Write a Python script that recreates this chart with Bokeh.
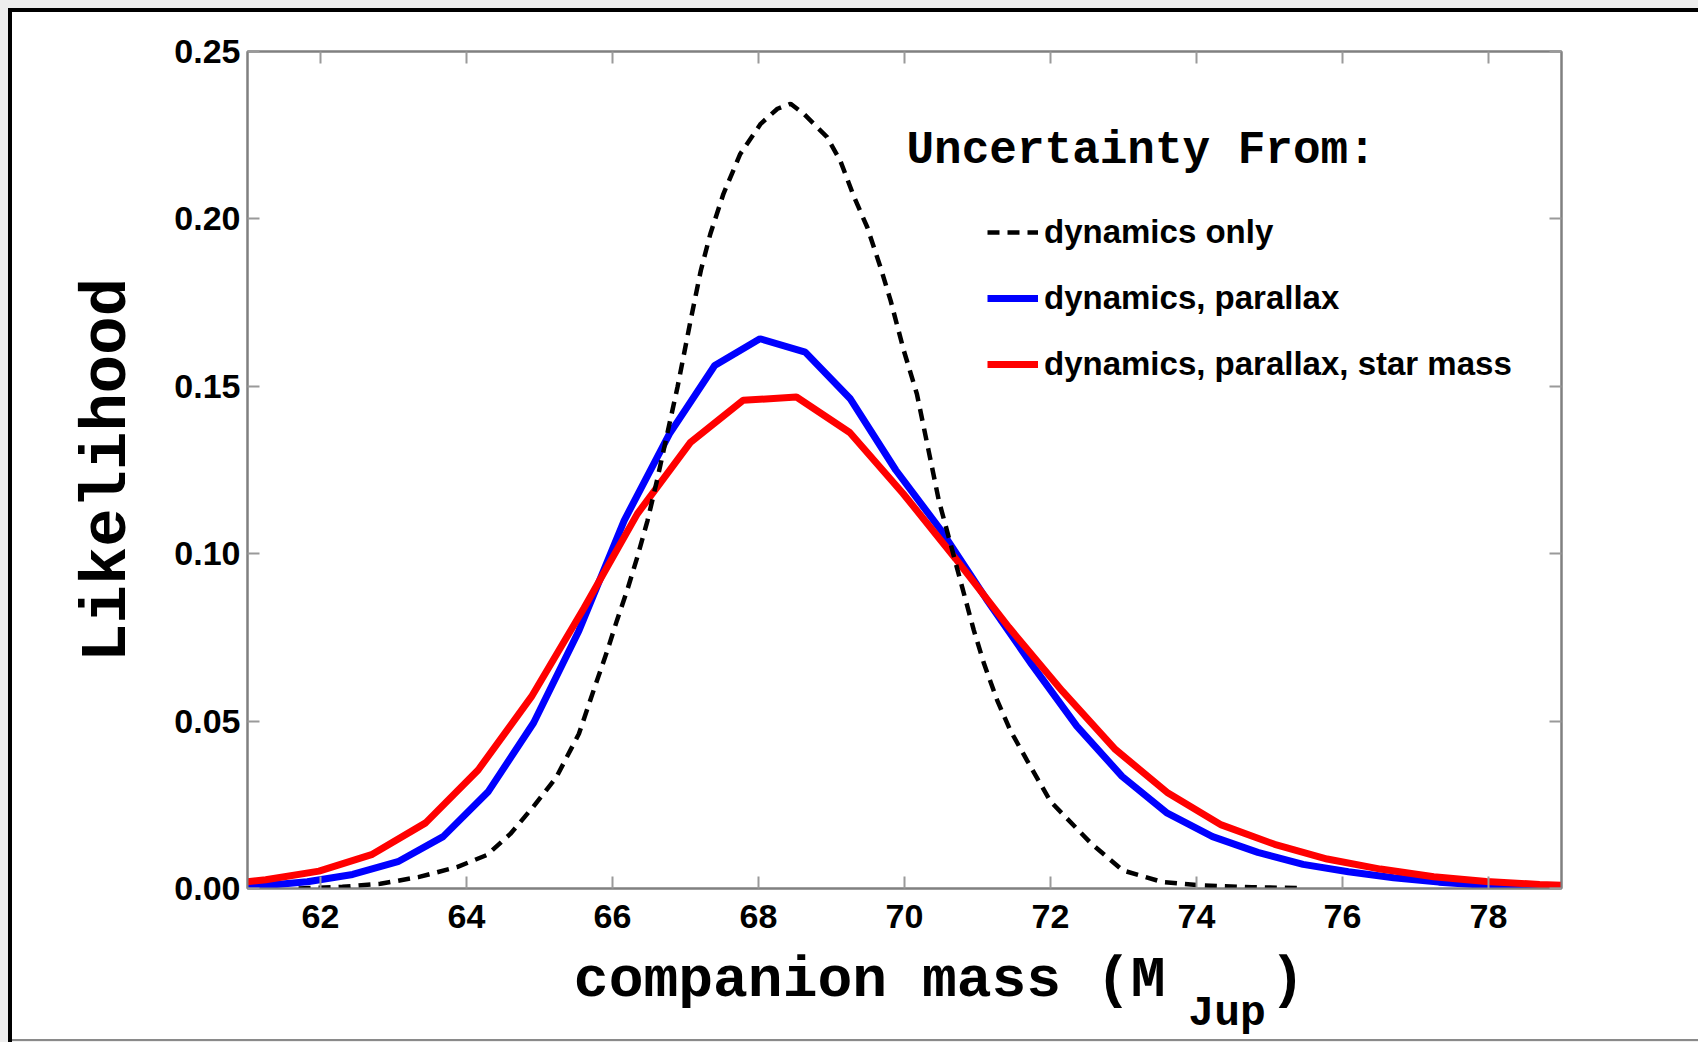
from bokeh.plotting import figure
from bokeh.models import (Range1d, FixedTicker, PrintfTickFormatter, LinearAxis,
                          Legend, LegendItem, Label)
from bokeh.embed import file_html
from bokeh.resources import INLINE

# ---------------- data ----------------
mass_dyn = [61.70, 62.30, 62.82, 63.34, 63.87, 64.28, 64.60, 64.91, 65.23, 65.54,
            65.74, 65.93, 66.06, 66.20, 66.34, 66.48, 66.61, 66.75, 66.89, 67.07,
            67.21, 67.34, 67.52, 67.75, 68.03, 68.26, 68.44, 68.62, 68.94, 69.12,
            69.31, 69.49, 69.67, 69.81, 69.99, 70.17, 70.33, 70.47, 70.63, 70.79,
            70.95, 71.09, 71.27, 71.45, 71.68, 72.00, 72.56, 72.99, 73.54, 74.09,
            74.76, 75.45]
like_dyn = [0.0000, 0.0005, 0.0014, 0.0034, 0.0064, 0.0100, 0.0163, 0.0243, 0.0332, 0.0462,
            0.0591, 0.0711, 0.0800, 0.0890, 0.0990, 0.1099, 0.1219, 0.1358, 0.1497, 0.1697,
            0.1846, 0.1955, 0.2075, 0.2194, 0.2284, 0.2329, 0.2344, 0.2314, 0.2244, 0.2174,
            0.2065, 0.1975, 0.1856, 0.1756, 0.1607, 0.1477, 0.1308, 0.1159, 0.1030, 0.0900,
            0.0771, 0.0671, 0.0562, 0.0472, 0.0382, 0.0260, 0.0134, 0.0054, 0.0019, 0.0009,
            0.0004, 0.0001]

mass_par = [60.58, 61.20, 61.82, 62.44, 63.06, 63.68, 64.30, 64.92, 65.54, 66.16,
            66.78, 67.40, 68.02, 68.64, 69.26, 69.88, 70.50, 71.12, 71.74, 72.36,
            72.98, 73.60, 74.22, 74.84, 75.46, 76.08, 76.70, 77.32, 77.94, 78.56, 79.18]
like_par = [0.0002, 0.0008, 0.0020, 0.0042, 0.0080, 0.0155, 0.0290, 0.0495, 0.0770, 0.1099,
            0.1358, 0.1562, 0.1642, 0.1602, 0.1462, 0.1250, 0.1070, 0.0865, 0.0670, 0.0485,
            0.0335, 0.0225, 0.0155, 0.0108, 0.0072, 0.0050, 0.0032, 0.0019, 0.0010, 0.0005, 0.0002]

mass_star = [60.53, 61.25, 61.98, 62.71, 63.44, 64.16, 64.89, 65.61, 66.34, 67.07,
             67.79, 68.52, 69.25, 69.98, 70.70, 71.43, 72.16, 72.89, 73.61, 74.34,
             75.07, 75.79, 76.52, 77.25, 77.97, 78.70, 79.43]
like_star = [0.0010, 0.0026, 0.0052, 0.0102, 0.0196, 0.0354, 0.0573, 0.0838, 0.1119, 0.1333,
             0.1458, 0.1468, 0.1362, 0.1180, 0.0985, 0.0780, 0.0590, 0.0415, 0.0285, 0.0190,
             0.0132, 0.0088, 0.0058, 0.0035, 0.0021, 0.0012, 0.0007]

series_labels = ["dynamics only", "dynamics, parallax", "dynamics, parallax, star mass"]
legend_title = "Uncertainty From:"
x_ticks = [62, 64, 66, 68, 70, 72, 74, 76, 78]
y_ticks = [0.0, 0.05, 0.10, 0.15, 0.20, 0.25]
x_label_main = "companion mass (M"
x_label_sub = "Jup"
x_label_close = ")"
y_label = "Likelihood"

NB = "\u00a0"

# ---------------- figure ----------------
W, H = 1698, 1042
p = figure(width=W, height=H, output_backend="svg", toolbar_location=None,
           x_range=Range1d(61, 79), y_range=Range1d(0, 0.25),
           min_border_left=247, min_border_right=137, min_border_top=51, min_border_bottom=154,
           background_fill_color="white", border_fill_color=None)
p.styles = {
    "background": ("linear-gradient(#000,#000) 8px 8px / 100% 4px no-repeat, "
                   "linear-gradient(#000,#000) 8px 8px / 4px 100% no-repeat, "
                   "linear-gradient(#8a8a8a,#8a8a8a) 8px 1039px / 100% 2px no-repeat, "
                   "linear-gradient(#fff,#fff) 12px 12px / 100% 1027px no-repeat, "
                   "#eeeeee")
}
p.grid.visible = False
p.outline_line_color = "#808080"
p.outline_line_width = 2

AX = "#808080"
TICK = "#9a9a9a"


def style_axis(ax, labels=True):
    ax.axis_line_color = AX
    ax.axis_line_width = 2
    ax.major_tick_line_color = TICK
    ax.major_tick_line_width = 2
    ax.major_tick_in = 12
    ax.major_tick_out = 0
    ax.minor_tick_line_color = None
    if labels:
        ax.major_label_text_font = "Liberation Sans"
        ax.major_label_text_font_style = "bold"
        ax.major_label_text_font_size = "34px"
        ax.major_label_text_color = "black"
    else:
        ax.major_label_text_color = None


def style_title(ax, size):
    ax.axis_label_text_font = "Liberation Mono"
    ax.axis_label_text_font_style = "bold"
    ax.axis_label_text_font_size = size
    ax.axis_label_text_color = "black"


xa = p.xaxis[0]
xa.ticker = FixedTicker(ticks=x_ticks)
style_axis(xa)
xa.major_label_standoff = 16
xa.axis_label = NB * 2 + x_label_main + NB * 3 + x_label_close
style_title(xa, "58px")
xa.axis_label_standoff = 17

ya = p.yaxis[0]
ya.ticker = FixedTicker(ticks=y_ticks)
ya.formatter = PrintfTickFormatter(format="%.2f")
style_axis(ya)
ya.major_label_standoff = 7
ya.axis_label = y_label
style_title(ya, "64px")
ya.axis_label_standoff = 27

# subscript row of the x title
sub = LinearAxis(ticker=FixedTicker(ticks=[]), axis_line_color=None,
                 major_tick_line_color=None, minor_tick_line_color=None,
                 major_label_text_color=None, major_tick_out=0, major_tick_in=0,
                 major_label_standoff=0)
sub.axis_label = NB * 25 + x_label_sub
style_title(sub, "43px")
sub.axis_label_standoff = -27
p.add_layout(sub, "below")

top = LinearAxis(ticker=FixedTicker(ticks=x_ticks))
style_axis(top, labels=False)
p.add_layout(top, "above")
right = LinearAxis(ticker=FixedTicker(ticks=y_ticks))
style_axis(right, labels=False)
p.add_layout(right, "right")

# ---------------- curves ----------------
r_par = p.line(mass_par, like_par, line_color="#0000ff", line_width=7)
r_star = p.line(mass_star, like_star, line_color="#ff0000", line_width=7)
r_dyn = p.line(mass_dyn, like_dyn, line_color="black", line_width=4.5, line_dash="12 8")

legend = Legend(items=[LegendItem(label=series_labels[0], renderers=[r_dyn]),
                       LegendItem(label=series_labels[1], renderers=[r_par]),
                       LegendItem(label=series_labels[2], renderers=[r_star])],
                location=(740, 504), orientation="vertical",
                glyph_width=51, glyph_height=40, label_height=40, label_standoff=6,
                spacing=26, padding=0, margin=0,
                border_line_alpha=0, background_fill_alpha=0,
                label_text_font="Liberation Sans", label_text_font_style="bold",
                label_text_font_size="33px", label_text_color="black")
p.add_layout(legend)

p.add_layout(Label(x=906, y=150, x_units="canvas", y_units="canvas", text=legend_title,
                   text_font="Liberation Mono", text_font_style="bold", text_font_size="46px",
                   text_align="left", text_baseline="alphabetic", text_color="black"))

open("out.html", "w").write(file_html(p, INLINE))
